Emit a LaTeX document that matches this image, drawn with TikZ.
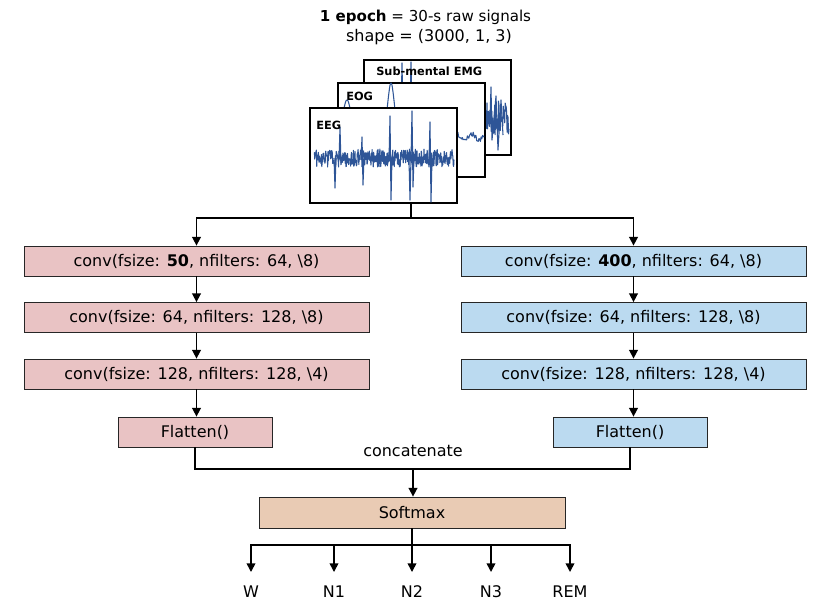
\documentclass[tikz,border=0pt]{standalone}
\usepackage{fontspec}
\setmainfont{DejaVu Sans}
\usetikzlibrary{arrows.meta}
\definecolor{pinkc}{HTML}{E9C3C4}
\definecolor{bluec}{HTML}{BBDAF0}
\definecolor{softc}{HTML}{E9CBB4}
\definecolor{wavec}{HTML}{2E5597}
\tikzset{
  box/.style={draw=black!85, line width=0.6pt, inner sep=0pt, minimum height=22.5pt, font=\fontsize{12}{14}\selectfont},
  convl/.style={box, fill=pinkc, minimum width=258.75pt},
  convr/.style={box, fill=bluec, minimum width=258.75pt},
  flatl/.style={box, fill=pinkc, minimum width=115.5pt},
  flatr/.style={box, fill=bluec, minimum width=115.5pt},
  softbox/.style={box, fill=softc, minimum width=229.5pt, minimum height=23.25pt},
  sig/.style={draw=black, fill=white, line width=1.4pt, minimum width=110.25pt, minimum height=71pt, inner sep=0pt},
  siglabel/.style={font=\bfseries\fontsize{8.5}{10}\selectfont, anchor=west, inner sep=0pt},
  wave/.style={draw=wavec, line width=0.8pt, line join=round},
  conn/.style={line width=1.2pt},
  arr/.style={line width=1.2pt, -{Triangle[width=6.5pt,length=6.5pt]}},
  outlab/.style={font=\fontsize{12}{14}\selectfont, anchor=base, inner sep=0pt},
  txt/.style={font=\fontsize{12}{14}\selectfont, inner sep=0pt}
}
\begin{document}
\begin{tikzpicture}[x=0.75pt,y=-0.75pt]
\useasboundingbox (0,0) rectangle (830,607);
\pgfmathsetseed{11}
% title
\node[txt, font=\fontsize{11.3}{14}\selectfont] (title1) at (425.5,17) {\textbf{1 epoch} = 30-s raw signals};
\node[txt] (title2) at (429,37) {shape = (3000, 1, 3)};
% EMG
\node[sig] (emg) at (437.5,107.5) {};
\draw[wave] plot[domain=366:509,samples=300] (\x,{118+17*rand});
\draw[wave] (490,118) -- (491,87) -- (492,140) -- (496,96) -- (498,150) -- (501,100) -- (503,135);
\draw[wave] (401,120) -- (402,63) -- (403,120);
\draw[wave] (410,120) -- (411,62) -- (412,120);
\node[siglabel] (emglab) at (376,71) {Sub-mental EMG};
% EOG
\node[sig] (eog) at (411.5,130) {};
\draw[wave] plot[domain=340:484,samples=200] (\x,{137+3*sin(\x*25)+2.5*rand});
\draw[wave] plot[smooth, tension=0.7] coordinates {(342,118) (345,104) (347,100) (349,104) (352,118)};
\draw[wave] plot[smooth, tension=0.7] coordinates {(386,120) (389,92) (391,83) (393,92) (396,120)};
\node[siglabel] (eoglab) at (346,96) {EOG};
% EEG
\node[sig] (eeg) at (383.5,155.5) {};
\draw[wave] plot[domain=314:454,samples=360] (\x,{158+9*rand});
\draw[wave] (334,158) -- (335,188) -- (336,158);
\draw[wave] (339,160) -- (340,127) -- (341,165);
\draw[wave] (361,160) -- (362,137) -- (363,185) -- (364,158);
\draw[wave] (389,160) -- (390,116) -- (391,200) -- (392,158);
\draw[wave] (409,160) -- (410,200) -- (411,158);
\draw[wave] (411,160) -- (412,111) -- (413,187) -- (414,158);
\draw[wave] (429,160) -- (430,122) -- (431,202) -- (432,158);
\node[siglabel] (eeglab) at (316,125) {EEG};
% left branch
\node[convl] (l1) at (196.5,261) {conv(fsize: \textbf{50}, nfilters: 64, \textbackslash 8)};
\node[convl] (l2) at (196.5,317.5) {conv(fsize: 64, nfilters: 128, \textbackslash 8)};
\node[convl] (l3) at (196.5,374) {conv(fsize: 128, nfilters: 128, \textbackslash 4)};
\node[flatl] (lf) at (195,432) {Flatten()};
% right branch
\node[convr] (r1) at (633.5,261) {conv(fsize: \textbf{400}, nfilters: 64, \textbackslash 8)};
\node[convr] (r2) at (633.5,317.5) {conv(fsize: 64, nfilters: 128, \textbackslash 8)};
\node[convr] (r3) at (633.5,374) {conv(fsize: 128, nfilters: 128, \textbackslash 4)};
\node[flatr] (rf) at (630,432) {Flatten()};
% split
\coordinate (split) at (411,218);
\draw[conn] (split |- eeg.south) -- (split);
\draw[arr] (split) -| (l1.north);
\draw[arr] (split) -| (r1.north);
\draw[arr] (l1.south) -- (l2.north);
\draw[arr] (l2.south) -- (l3.north);
\draw[arr] (l3.south) -- (l3.south |- lf.north);
\draw[arr] (r1.south) -- (r2.north);
\draw[arr] (r2.south) -- (r3.north);
\draw[arr] (r3.south) -- (r3.south |- rf.north);
% concatenate
\node[txt] (cat) at (413,451) {concatenate};
\coordinate (join) at (413,469);
\draw[conn] (lf.south) |- (join);
\draw[conn] (rf.south) |- (join);
\node[softbox] (soft) at (412,512.5) {Softmax};
\draw[arr] (join) -- (join |- soft.north);
% outputs
\coordinate (osplit) at (412,545);
\coordinate (tipline) at (0,572);
\draw[conn] (soft.south) -- (osplit);
\node[outlab] (w) at (251,597) {W};
\node[outlab] (n1) at (334,597) {N1};
\node[outlab] (n2) at (412,597) {N2};
\node[outlab] (n3) at (491,597) {N3};
\node[outlab] (rem) at (570,597) {REM};
\foreach \o in {w,n1,n2,n3,rem}{
  \draw[arr] (osplit) -| (\o.north |- tipline);
}
\end{tikzpicture}
\end{document}
